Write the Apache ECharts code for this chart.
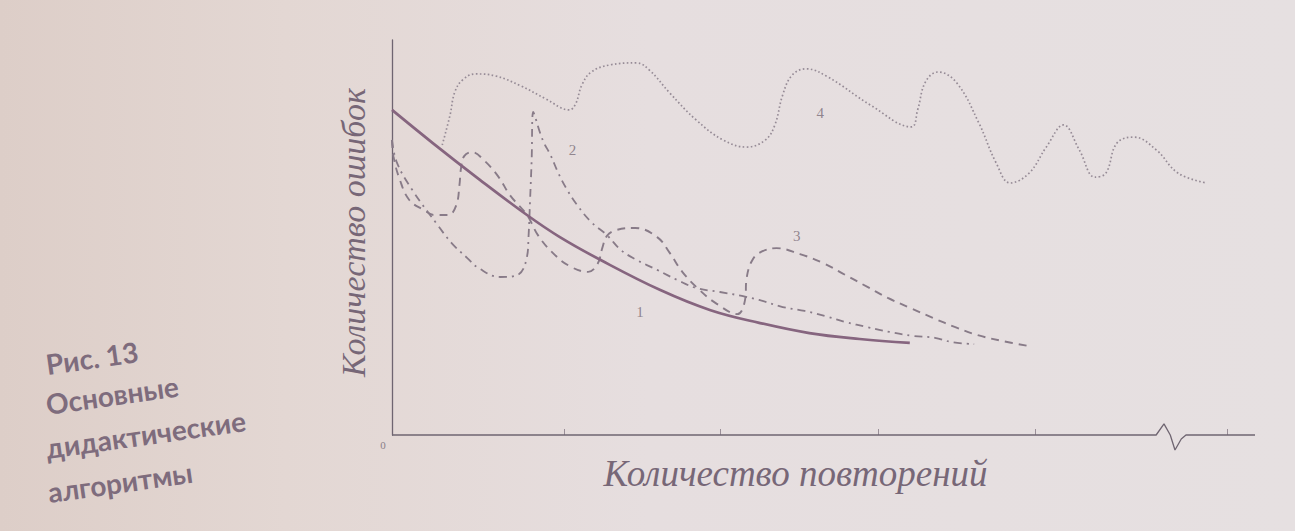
<!DOCTYPE html>
<html>
<head>
<meta charset="utf-8">
<script src="https://cdn.jsdelivr.net/npm/echarts@6/dist/echarts.min.js"></script>
<style>
html,body{margin:0;padding:0;}
body{width:1295px;height:531px;overflow:hidden;
background:linear-gradient(90deg, #ddcec8 0%, #e3d7d3 22%, #e6dedf 50%, #e6e0e1 100%);}
#c{width:1295px;height:531px;}
</style>
</head>
<body>
<div id="c"></div>
<script>
// Axis titles and caption
const xName = 'Количество повторений';
const yName = 'Количество ошибок';
const captionLines = ['Рис. 13', 'Основные', 'дидактические', 'алгоритмы'];
const zeroLabel = '0';

// Tick positions along the x axis (in "repetition" units)
const xTicks = [1.1, 2.09, 3.1, 4.1, 5.32];

// Curve 1 (solid)
const curve1 = [[0,82.3],[0.26,73.9],[0.56,64.6],[0.86,55.7],[1.07,50.1],[1.33,44.3],[1.71,36.7],[2.03,31.6],[2.34,28.4],[2.66,25.8],[2.98,24.3],[3.30,23.3]];

// Curve 2 (dash-dot)
const curve2 = [[0,74.7],[0.03,69.1],[0.13,62.0],[0.29,53.2],[0.38,48.6],[0.48,44.8],[0.55,42.3],[0.69,40.0],[0.80,40.5],[0.86,45.1],[0.87,50.1],[0.88,59.5],[0.89,69.6],[0.90,81.8],[0.96,74.7],[1.01,70.9],[1.06,66.3],[1.11,62.5],[1.18,58.2],[1.27,53.9],[1.37,50.6],[1.46,46.8],[1.56,44.3],[1.69,41.8],[1.82,39.2],[1.94,37.2],[2.09,36.2],[2.23,35.2],[2.34,34.2],[2.49,32.4],[2.63,31.4],[2.78,29.9],[2.89,28.6],[3.03,27.3],[3.17,26.1],[3.32,25.1],[3.46,24.6],[3.57,23.5],[3.71,23.0]];

// Curve 3 (dashed)
const curve3 = [[0,74.7],[0.01,70.4],[0.05,64.6],[0.11,59.5],[0.20,57.0],[0.27,55.7],[0.36,55.7],[0.41,58.2],[0.43,63.3],[0.44,67.6],[0.46,70.6],[0.51,71.6],[0.59,69.4],[0.68,65.3],[0.75,60.8],[0.86,55.7],[0.93,50.6],[1.02,46.3],[1.13,42.8],[1.25,41.3],[1.31,43.3],[1.34,47.3],[1.37,50.4],[1.43,51.9],[1.55,52.4],[1.69,50.1],[1.77,46.1],[1.85,41.3],[1.96,36.7],[2.07,33.2],[2.20,30.6],[2.25,34.2],[2.26,39.7],[2.29,43.8],[2.34,46.1],[2.45,47.3],[2.60,45.8],[2.75,43.5],[2.89,40.5],[3.03,37.5],[3.16,34.7],[3.30,32.2],[3.45,29.6],[3.59,27.3],[3.73,25.3],[3.89,23.8],[4.06,22.5]];

// Curve 4 (dotted)
const curve4 = [[0.32,73.4],[0.37,81.0],[0.40,86.8],[0.45,89.9],[0.53,91.4],[0.66,90.9],[0.82,88.4],[0.98,85.1],[1.13,82.3],[1.17,83.8],[1.21,88.6],[1.27,91.9],[1.39,93.7],[1.56,94.2],[1.64,92.4],[1.77,86.6],[1.94,79.7],[2.11,74.7],[2.26,72.9],[2.38,74.7],[2.44,78.5],[2.49,86.1],[2.55,91.1],[2.64,92.7],[2.78,90.6],[3.05,83.5],[3.31,78.0],[3.35,82.3],[3.40,89.4],[3.48,91.9],[3.60,89.1],[3.74,79.0],[3.85,68.9],[3.94,63.8],[4.06,66.3],[4.17,72.9],[4.28,78.5],[4.38,72.2],[4.48,65.3],[4.55,66.3],[4.62,73.9],[4.73,75.4],[4.87,72.2],[5.01,66.3],[5.19,63.8]];

// Curve number labels
const curveLabelNames = ['1', '2', '3', '4'];
const curveLabelPos = [[1.58,31.1],[1.15,72.2],[2.58,50.4],[2.73,81.5]];

// x axis line with a break mark
const xAxisPath = [[0,0],[4.87,0],[4.92,2.8],[4.96,0],[4.99,-3.8],[5.03,-1],[5.06,0],[5.5,0]];

const chart = echarts.init(document.getElementById('c'), null, {renderer:'svg'});

const captionPos = [[48,378],[48,418],[48,462],[50,506]];
const graphics = captionLines.map((t,i)=>({
  type:'text', x:captionPos[i][0], y:captionPos[i][1], rotation:0.14,
  style:{text:t, font:'bold 28px Lato', fill:'#7e6c7d', verticalAlign:'bottom', align:'left'}
}));

chart.setOption({
  animation:false,
  backgroundColor:'transparent',
  grid:{left:392, right:40, top:40, bottom:96, outerBoundsMode:'none', containLabel:false},
  xAxis:{
    type:'value', min:0, max:5.5,
    name:xName, nameLocation:'middle', nameGap:14,
    nameTextStyle:{fontFamily:'Liberation Serif', fontStyle:'italic', fontSize:37, color:'#776777', padding:[0,56,0,0]},
    axisLine:{show:false},
    axisTick:{show:true, inside:true, length:6, customValues:xTicks, lineStyle:{color:'#9a8f98', width:1}},
    axisLabel:{show:true, customValues:[0], formatter:()=>zeroLabel, fontFamily:'Liberation Serif', fontSize:11, color:'#8a7f88', margin:4, padding:[0,18,0,0]},
    splitLine:{show:false}
  },
  yAxis:{
    type:'value', min:0, max:100,
    name:yName, nameLocation:'middle', nameGap:22, nameRotate:90,
    nameTextStyle:{fontFamily:'Liberation Serif', fontStyle:'italic', fontSize:34, color:'#776777', padding:[0,0,0,10]},
    axisLine:{show:true, lineStyle:{color:'#6f6571', width:1.3}},
    axisTick:{show:false}, axisLabel:{show:false}, splitLine:{show:false}
  },
  graphic:graphics,
  series:[
    {type:'line', name:'axis', data:xAxisPath, symbol:'none', clip:false, silent:true,
     lineStyle:{color:'#6f6571', width:1.3}},
    {type:'line', name:'4', data:curve4, symbol:'none', smooth:0.4,
     lineStyle:{color:'#968b96', width:1.7, type:[1.6,2.4]}},
    {type:'line', name:'3', data:curve3, symbol:'none', smooth:0.4,
     lineStyle:{color:'#887b88', width:1.9, type:[8,6]}},
    {type:'line', name:'2', data:curve2, symbol:'none', smooth:0.4,
     lineStyle:{color:'#887b88', width:1.8, type:[8,5,2,5]}},
    {type:'line', name:'1', data:curve1, symbol:'none', smooth:0.4,
     lineStyle:{color:'#86657f', width:2.7}},
    {type:'scatter', name:'labels', symbolSize:0, silent:true,
     data:curveLabelPos.map((p,i)=>({name:curveLabelNames[i], value:p})),
     label:{show:true, position:'inside', formatter:'{b}', fontFamily:'Liberation Serif', fontSize:15, color:'#7a6d79'}}
  ]
});
</script>
</body>
</html>
